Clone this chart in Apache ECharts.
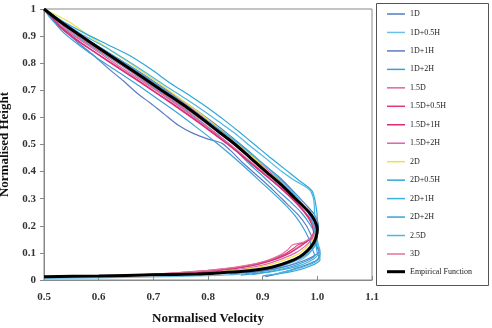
<!DOCTYPE html>
<html>
<head>
<meta charset="utf-8">
<script src="https://cdn.jsdelivr.net/npm/echarts@6/dist/echarts.min.js"></script>
<style>
  html, body { margin: 0; padding: 0; background: #fff; }
  #chart { width: 492px; height: 328px; }
</style>
</head>
<body>
<div id="chart"></div>
<script>
// velocity profiles, [normalised velocity, normalised height], bottom to top
var s1D = [[0.905,0.012],[0.94,0.03],[0.975,0.052],[1.0,0.075],[1.005,0.1],[0.998,0.13],[1.0,0.165],[1.002,0.2],[0.995,0.24],[0.978,0.28],[0.955,0.33],[0.93,0.38],[0.9,0.43],[0.872,0.48],[0.842,0.53],[0.81,0.58],[0.776,0.63],[0.74,0.68],[0.703,0.73],[0.665,0.78],[0.625,0.83],[0.585,0.88],[0.545,0.93],[0.5,1.0]];
var s1D05H = [[0.5,0.006],[0.6,0.008],[0.7,0.011],[0.8,0.016],[0.86,0.022],[0.91,0.035],[0.95,0.055],[0.975,0.08],[0.99,0.11],[0.997,0.15],[0.997,0.19],[0.99,0.23],[0.975,0.27],[0.952,0.32],[0.925,0.37],[0.897,0.42],[0.868,0.47],[0.838,0.52],[0.805,0.57],[0.77,0.62],[0.735,0.67],[0.698,0.72],[0.66,0.77],[0.622,0.82],[0.585,0.865],[0.553,0.904],[0.525,0.94],[0.511,0.967],[0.5,1.0]];
var s1D1H = [[0.87,0.025],[0.92,0.04],[0.96,0.06],[0.99,0.085],[1.003,0.105],[0.997,0.13],[0.99,0.16],[0.98,0.2],[0.965,0.24],[0.945,0.28],[0.92,0.33],[0.893,0.38],[0.865,0.43],[0.84,0.48],[0.825,0.505],[0.8,0.52],[0.772,0.542],[0.745,0.572],[0.72,0.612],[0.695,0.652],[0.67,0.69],[0.645,0.735],[0.618,0.78],[0.59,0.83],[0.56,0.88],[0.53,0.935],[0.5,1.0]];
var s1D2H = [[0.84,0.022],[0.9,0.035],[0.94,0.055],[0.97,0.08],[0.99,0.11],[0.998,0.14],[0.995,0.175],[0.985,0.21],[0.97,0.25],[0.95,0.29],[0.928,0.33],[0.902,0.38],[0.875,0.43],[0.85,0.48],[0.822,0.53],[0.79,0.58],[0.757,0.63],[0.722,0.68],[0.686,0.73],[0.65,0.78],[0.612,0.83],[0.575,0.88],[0.54,0.93],[0.5,1.0]];
var s15D = [[0.645,0.016],[0.7,0.022],[0.75,0.028],[0.8,0.036],[0.85,0.046],[0.89,0.06],[0.92,0.075],[0.945,0.095],[0.96,0.115],[0.975,0.135],[0.988,0.155],[0.995,0.18],[0.992,0.21],[0.98,0.245],[0.96,0.29],[0.935,0.34],[0.905,0.39],[0.876,0.44],[0.847,0.49],[0.815,0.54],[0.782,0.59],[0.748,0.64],[0.712,0.69],[0.675,0.74],[0.637,0.79],[0.6,0.84],[0.563,0.89],[0.53,0.94],[0.5,1.0]];
var s15D05H = [[0.7,0.02],[0.76,0.027],[0.82,0.037],[0.87,0.052],[0.91,0.072],[0.94,0.095],[0.955,0.115],[0.965,0.13],[0.98,0.14],[0.99,0.155],[0.995,0.18],[0.99,0.215],[0.975,0.255],[0.955,0.3],[0.93,0.345],[0.9,0.395],[0.87,0.445],[0.84,0.495],[0.808,0.545],[0.775,0.595],[0.74,0.645],[0.703,0.695],[0.666,0.745],[0.628,0.795],[0.59,0.845],[0.555,0.895],[0.525,0.945],[0.5,1.0]];
var s15D1H = [[0.74,0.022],[0.8,0.03],[0.85,0.042],[0.89,0.057],[0.925,0.078],[0.95,0.1],[0.97,0.125],[0.985,0.15],[0.993,0.175],[0.99,0.205],[0.978,0.245],[0.958,0.29],[0.932,0.34],[0.903,0.39],[0.873,0.44],[0.843,0.49],[0.81,0.54],[0.776,0.59],[0.741,0.64],[0.705,0.69],[0.668,0.74],[0.63,0.79],[0.593,0.84],[0.556,0.89],[0.525,0.94],[0.5,1.0]];
var s15D2H = [[0.8,0.028],[0.86,0.04],[0.9,0.055],[0.935,0.078],[0.96,0.1],[0.978,0.125],[0.99,0.15],[0.997,0.18],[0.995,0.21],[0.985,0.245],[0.967,0.29],[0.944,0.34],[0.918,0.39],[0.89,0.44],[0.862,0.49],[0.835,0.535],[0.805,0.58],[0.772,0.63],[0.737,0.68],[0.7,0.73],[0.662,0.78],[0.622,0.83],[0.582,0.88],[0.543,0.93],[0.5,1.0]];
var s2D = [[0.82,0.03],[0.87,0.04],[0.91,0.055],[0.945,0.078],[0.968,0.1],[0.985,0.13],[0.995,0.16],[0.998,0.19],[0.993,0.22],[0.982,0.255],[0.962,0.3],[0.938,0.35],[0.91,0.4],[0.884,0.45],[0.856,0.5],[0.826,0.55],[0.795,0.6],[0.762,0.65],[0.728,0.7],[0.693,0.75],[0.657,0.8],[0.62,0.85],[0.583,0.9],[0.548,0.95],[0.5,1.0]];
var s2D05H = [[0.9,0.015],[0.95,0.03],[0.985,0.05],[1.005,0.075],[1.0,0.1],[0.998,0.13],[1.0,0.17],[1.0,0.22],[0.997,0.28],[0.99,0.33],[0.965,0.37],[0.94,0.41],[0.912,0.455],[0.885,0.5],[0.858,0.545],[0.83,0.59],[0.8,0.635],[0.767,0.68],[0.732,0.725],[0.694,0.78],[0.655,0.83],[0.615,0.87],[0.575,0.91],[0.538,0.95],[0.5,1.0]];
var s2D1H = [[0.88,0.02],[0.93,0.035],[0.97,0.055],[0.995,0.08],[1.005,0.11],[0.998,0.14],[0.995,0.18],[0.99,0.22],[0.98,0.26],[0.965,0.3],[0.945,0.345],[0.922,0.39],[0.897,0.435],[0.87,0.48],[0.845,0.52],[0.818,0.56],[0.79,0.6],[0.76,0.645],[0.725,0.695],[0.69,0.745],[0.652,0.795],[0.613,0.845],[0.576,0.89],[0.54,0.94],[0.5,1.0]];
var s2D2H = [[0.86,0.018],[0.91,0.03],[0.95,0.048],[0.98,0.07],[0.995,0.09],[0.99,0.12],[0.985,0.15],[0.975,0.19],[0.962,0.23],[0.945,0.27],[0.922,0.315],[0.895,0.365],[0.868,0.415],[0.84,0.465],[0.81,0.515],[0.778,0.565],[0.745,0.615],[0.71,0.665],[0.675,0.715],[0.638,0.765],[0.6,0.815],[0.565,0.865],[0.532,0.92],[0.5,1.0]];
var s25D = [[0.92,0.02],[0.96,0.04],[0.99,0.06],[1.005,0.085],[1.003,0.12],[0.998,0.16],[0.996,0.2],[0.995,0.25],[0.993,0.3],[0.985,0.335],[0.96,0.365],[0.935,0.4],[0.908,0.445],[0.88,0.49],[0.853,0.535],[0.826,0.575],[0.795,0.62],[0.762,0.665],[0.727,0.71],[0.69,0.76],[0.652,0.81],[0.612,0.86],[0.575,0.9],[0.54,0.945],[0.5,1.0]];
var s3D = [[0.66,0.018],[0.72,0.024],[0.78,0.032],[0.83,0.042],[0.87,0.054],[0.905,0.07],[0.93,0.09],[0.945,0.11],[0.955,0.13],[0.975,0.14],[0.99,0.16],[0.998,0.185],[0.995,0.215],[0.984,0.25],[0.963,0.295],[0.938,0.345],[0.91,0.395],[0.88,0.445],[0.85,0.495],[0.818,0.545],[0.785,0.595],[0.75,0.645],[0.714,0.695],[0.677,0.745],[0.64,0.795],[0.603,0.845],[0.566,0.895],[0.532,0.945],[0.5,1.0]];
var empirical = [[0.5,0.012],[0.6,0.015],[0.7,0.019],[0.78,0.022],[0.82,0.026],[0.86,0.031],[0.89,0.038],[0.92,0.049],[0.945,0.065],[0.968,0.086],[0.983,0.11],[0.993,0.136],[0.998,0.16],[1.0,0.185],[0.995,0.22],[0.985,0.25],[0.96,0.3],[0.935,0.35],[0.906,0.4],[0.878,0.45],[0.85,0.5],[0.818,0.55],[0.786,0.6],[0.752,0.65],[0.715,0.7],[0.679,0.75],[0.642,0.8],[0.605,0.85],[0.568,0.9],[0.532,0.95],[0.5,1.0]];

var names = ['1D','1D+0.5H','1D+1H','1D+2H','1.5D','1.5D+0.5H','1.5D+1H','1.5D+2H','2D','2D+0.5H','2D+1H','2D+2H','2.5D','3D'];
var profiles = [s1D, s1D05H, s1D1H, s1D2H, s15D, s15D05H, s15D1H, s15D2H, s2D, s2D05H, s2D1H, s2D2H, s25D, s3D];
var colors = ['#4f7fc0','#6cc0e6','#5a7cc4','#3d9fd6','#e2659e','#e3337f','#d62f78','#d964b0','#efe04a','#2ea7d8','#3fb2df','#38a2d8','#4cb6e2','#e0739a'];

var serif = '"Liberation Serif", "DejaVu Serif", serif';

var series = [];
for (var i = 0; i < names.length; i++) {
    series.push({
        name: names[i],
        type: 'line',
        data: profiles[i],
        color: colors[i],
        symbol: 'none',
        smooth: 0.25,
        lineStyle: { width: 1.2, color: colors[i] }
    });
}
series.push({
    name: 'Empirical Function',
    type: 'line',
    data: empirical,
    color: '#000',
    symbol: 'none',
    smooth: 0.25,
    z: 5,
    lineStyle: { width: 3, color: '#000' }
});

var chart = echarts.init(document.getElementById('chart'));
chart.setOption({
    animation: false,
    backgroundColor: '#fff',
    grid: { left: 44, top: 9, right: 120, bottom: 48, outerBoundsMode: 'none', containLabel: false,
        show: true, borderColor: '#888', borderWidth: 1 },
    graphic: [{
        type: 'rect',
        shape: { x: 376.5, y: 3.5, width: 112, height: 282 },
        style: { fill: 'none', stroke: '#555', lineWidth: 1 }
    }],
    legend: [{
        data: names,
        orient: 'vertical',
        left: 387, top: 8,
        padding: 0,
        itemWidth: 18, itemHeight: 1.5, itemGap: 6.46,
        icon: 'rect',
        textStyle: { fontFamily: serif, fontSize: 8, color: '#222', lineHeight: 12 }
    }, {
        data: ['Empirical Function'],
        orient: 'vertical',
        left: 387, top: 265.7,
        padding: 0,
        itemWidth: 18, itemHeight: 3,
        icon: 'rect',
        textStyle: { fontFamily: serif, fontSize: 8, color: '#222', lineHeight: 12 }
    }],
    xAxis: {
        type: 'value', min: 0.5, max: 1.1, interval: 0.1,
        name: 'Normalised Velocity', nameLocation: 'middle', nameGap: 32,
        nameTextStyle: { fontFamily: serif, fontSize: 13, fontWeight: 'bold', color: '#111' },
        axisLine: { lineStyle: { color: '#888' } },
        axisTick: { inside: true, length: 4, lineStyle: { color: '#888' } },
        axisLabel: { margin: 12, fontFamily: serif, fontSize: 11, fontWeight: 'bold', color: '#333',
            formatter: function (v) { return v.toFixed(1); } },
        splitLine: { show: false }
    },
    yAxis: {
        type: 'value', min: 0, max: 1, interval: 0.1,
        name: 'Normalised Height', nameLocation: 'middle', nameGap: 32,
        nameTextStyle: { fontFamily: serif, fontSize: 13, fontWeight: 'bold', color: '#111' },
        axisLine: { show: true, lineStyle: { color: '#888' } },
        axisTick: { show: true, length: 4, lineStyle: { color: '#888' } },
        axisLabel: { margin: 8, fontFamily: serif, fontSize: 11, fontWeight: 'bold', color: '#333' },
        splitLine: { show: false }
    },
    series: series
});
</script>
</body>
</html>
